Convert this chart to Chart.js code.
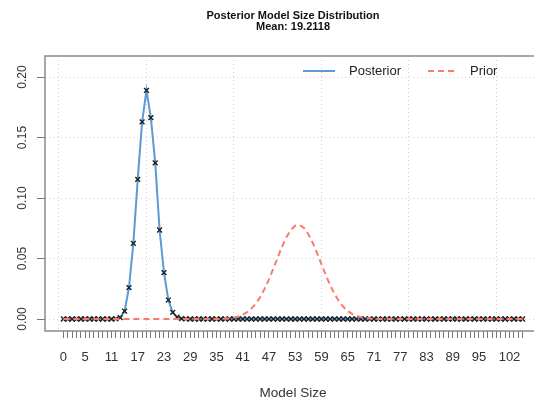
<!DOCTYPE html>
<html>
<head>
<meta charset="utf-8">
<script src="https://cdn.jsdelivr.net/npm/chart.js@4/dist/chart.umd.min.js"></script>
<style>
  html, body { margin: 0; padding: 0; background: #ffffff; overflow: hidden; }
  #wrap { width: 550px; height: 403px; }
</style>
</head>
<body>
<div id="wrap"><canvas id="chart" width="550" height="403"></canvas></div>
<script>
// Model sizes 0..105
const modelSizes = [
  0,1,2,3,4,5,6,7,8,9,10,11,12,13,14,15,16,17,18,19,20,21,22,23,24,25,26,27,28,29,
  30,31,32,33,34,35,36,37,38,39,40,41,42,43,44,45,46,47,48,49,50,51,52,53,54,55,56,57,58,59,
  60,61,62,63,64,65,66,67,68,69,70,71,72,73,74,75,76,77,78,79,80,81,82,83,84,85,86,87,88,89,
  90,91,92,93,94,95,96,97,98,99,100,101,102,103,104,105
];

// Posterior probability of each model size
const posterior = [
  0,0,0,0,0,0,0,0,0,0,0,0,0.0002,0.0012,0.0066,0.0259,0.0626,0.1154,0.1630,0.1890,
  0.1664,0.1290,0.0736,0.0383,0.0157,0.0055,0.0016,0.0004,0.0001,0,
  0,0,0,0,0,0,0,0,0,0,0,0,0,0,0,0,0,0,0,0,0,0,0,0,0,0,0,0,0,0,
  0,0,0,0,0,0,0,0,0,0,0,0,0,0,0,0,0,0,0,0,0,0,0,0,0,0,0,0,0,0,
  0,0,0,0,0,0,0,0,0,0,0,0,0,0,0,0
];

// Prior probability of each model size
const prior = [
  0,0,0,0,0,0,0,0,0,0,0,0,0,0,0,0,0,0,0,0,0,0,0,0,0,0,0,0,0,0,
  0,0,0,0,0,0,0,0.0003,0.0007,0.0012,0.0021,0.0035,0.0056,0.0086,0.0127,0.0182,0.0249,0.0328,0.0416,0.0509,
  0.0598,0.0676,0.0736,0.0771,0.0777,0.0753,0.0703,0.0631,0.0545,0.0453,
  0.0363,0.0279,0.0207,0.0148,0.0101,0.0067,0.0042,0.0026,0.0015,0.0009,
  0.0005,0.0002,0.0001,0,0,0,0,0,0,0,0,0,0,0,0,0,0,0,0,0,
  0,0,0,0,0,0,0,0,0,0,0,0,0,0,0,0
];

const xTickLabels = [0,5,11,17,23,29,35,41,47,53,59,65,71,77,83,89,95,102];
const yTickValues = [0, 0.05, 0.10, 0.15, 0.20];
const xGridValues = [-1, 19, 39, 59, 79, 99];

const titleLines = ['Posterior Model Size Distribution', 'Mean: 19.2118'];
const seriesNames = ['Posterior', 'Prior'];

const FONT = "'Liberation Sans', Arial, Helvetica, sans-serif";
const BLUE = '#5b9bd5';
const RED = '#fb7a6b';
const GRID = '#d0d0d0';
const labelSet = new Set(xTickLabels);

// Two-line title centred over the plotting region
const titlePlugin = {
  id: 'plotTitle',
  afterDraw(chart) {
    const { ctx, chartArea } = chart;
    const cx = (chartArea.left + chartArea.right) / 2;
    ctx.save();
    ctx.fillStyle = '#111';
    ctx.font = 'bold 11px ' + FONT;
    ctx.textAlign = 'center';
    ctx.textBaseline = 'middle';
    ctx.fillText(titleLines[0], cx, 16);
    ctx.fillText(titleLines[1], cx, 27);
    ctx.restore();
  }
};

// Frame around the plotting region
const boxPlugin = {
  id: 'plotBox',
  beforeDatasetsDraw(chart) {
    const { ctx, chartArea: a } = chart;
    ctx.save();
    ctx.strokeStyle = '#8a8a8a';
    ctx.lineWidth = 1.5;
    ctx.strokeRect(a.left, a.top, a.right - a.left, a.bottom - a.top);
    ctx.restore();
  }
};

// Borderless legend in the top-right of the plotting region
const legendPlugin = {
  id: 'plotLegend',
  afterDraw(chart) {
    const { ctx, chartArea: a } = chart;
    const y = a.top + 15;
    ctx.save();
    ctx.font = '13px ' + FONT;
    ctx.fillStyle = '#222';
    ctx.textBaseline = 'middle';
    ctx.textAlign = 'left';
    ctx.lineWidth = 2;
    ctx.strokeStyle = BLUE;
    ctx.beginPath(); ctx.moveTo(303, y); ctx.lineTo(335, y); ctx.stroke();
    ctx.fillText(seriesNames[0], 349, y);
    ctx.strokeStyle = RED;
    ctx.setLineDash([6, 4]);
    ctx.beginPath(); ctx.moveTo(428, y); ctx.lineTo(458, y); ctx.stroke();
    ctx.setLineDash([]);
    ctx.fillText(seriesNames[1], 470, y);
    ctx.restore();
  }
};

new Chart(document.getElementById('chart'), {
  type: 'line',
  data: {
    datasets: [
      {
        label: seriesNames[1],
        data: modelSizes.map((s, i) => ({ x: s, y: prior[i] })),
        borderColor: RED,
        borderWidth: 2,
        borderDash: [6, 4],
        pointRadius: 0,
        tension: 0,
        order: 0
      },
      {
        label: seriesNames[0],
        data: modelSizes.map((s, i) => ({ x: s, y: posterior[i] })),
        borderColor: BLUE,
        borderWidth: 2,
        pointStyle: 'crossRot',
        pointRadius: 3.4,
        pointBorderColor: '#1e1e1e',
        pointBorderWidth: 1.4,
        pointBackgroundColor: '#1e1e1e',
        tension: 0,
        order: 1
      }
    ]
  },
  options: {
    responsive: false,
    devicePixelRatio: 1,
    animation: false,
    layout: { padding: { left: 0, right: 9, top: 56, bottom: 0 } },
    plugins: { legend: { display: false }, title: { display: false }, tooltip: { enabled: false } },
    scales: {
      x: {
        type: 'linear',
        position: 'bottom',
        min: -4.2,
        max: 109.2,
        afterBuildTicks(scale) { scale.ticks = modelSizes.map(v => ({ value: v })); },
        afterFit(scale) { scale.height = 72; },
        border: { display: false },
        grid: {
          drawOnChartArea: false,
          drawTicks: true,
          tickLength: 7,
          tickColor: '#777',
          tickWidth: 1
        },
        ticks: {
          autoSkip: false,
          maxRotation: 0,
          minRotation: 0,
          padding: 12,
          color: '#333',
          font: { family: FONT, size: 13 },
          callback: (v) => labelSet.has(v) ? String(v) : ''
        },
        title: {
          display: true,
          text: 'Model Size',
          color: '#333',
          font: { family: FONT, size: 13.5 },
          padding: { top: 4, bottom: 2 }
        }
      },
      xg: {
        type: 'linear',
        position: 'bottom',
        min: -4.2,
        max: 109.2,
        afterBuildTicks(scale) { scale.ticks = xGridValues.map(v => ({ value: v })); },
        afterFit(scale) { scale.height = 0; },
        border: { display: false, dash: [1, 3] },
        grid: { color: GRID, lineWidth: 1, drawTicks: false },
        ticks: { display: false }
      },
      y: {
        type: 'linear',
        min: -0.0099,
        max: 0.2174,
        afterBuildTicks(scale) { scale.ticks = yTickValues.map(v => ({ value: v })); },
        afterFit(scale) { scale.width = 45; },
        border: { display: false, dash: [1, 3] },
        grid: {
          color: GRID,
          lineWidth: 1,
          tickLength: 8,
          tickColor: '#777',
          tickWidth: 1,
          tickBorderDash: [1, 0]
        },
        ticks: {
          minRotation: 90,
          maxRotation: 90,
          crossAlign: 'center',
          padding: 3,
          color: '#333',
          font: { family: FONT, size: 12 },
          callback: (v) => v.toFixed(2)
        }
      }
    }
  },
  plugins: [boxPlugin, titlePlugin, legendPlugin]
});
</script>
</body>
</html>
